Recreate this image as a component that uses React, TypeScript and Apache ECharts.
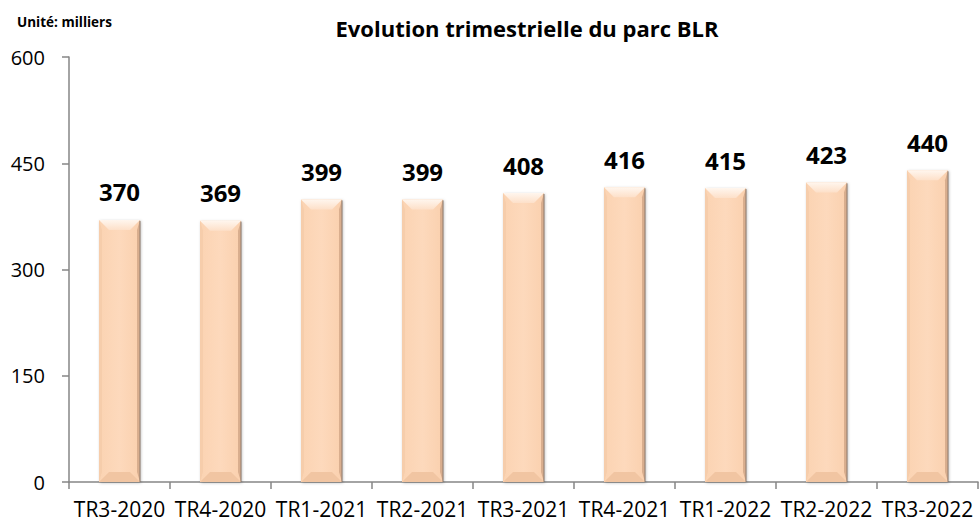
import React, { useEffect, useRef } from "react";
import * as echarts from "echarts";

const categories = ["TR3-2020", "TR4-2020", "TR1-2021", "TR2-2021", "TR3-2021", "TR4-2021", "TR1-2022", "TR2-2022", "TR3-2022"];
const values = [370, 369, 399, 399, 408, 416, 415, 423, 440];
const yTicks = [0, 150, 300, 450, 600];

const BAR_W = 41;

export default function App() {
  const ref = useRef<HTMLDivElement>(null);
  useEffect(() => {
    const chart = echarts.init(ref.current!, null, { renderer: "svg" });
    const font = "'Open Sans', 'Noto Sans', sans-serif";
    const renderBevel = (params: any, api: any) => {
      const c = api.coord([api.value(0), api.value(1)]);
      const b = api.coord([api.value(0), 0]);
      const l = c[0] - BAR_W / 2;
      const r = c[0] + BAR_W / 2;
      const t = c[1];
      const bt = b[1];
      const tb = 10;
      const sb = 3;
      return {
        type: "group",
        children: [
          {
            type: "polygon",
            shape: { points: [[l, t], [r, t], [r - tb, t + tb], [l + tb, t + tb]] },
            style: {
              fill: new echarts.graphic.LinearGradient(0, 0, 0, 1, [
                { offset: 0, color: "#FFF6EE" },
                { offset: 1, color: "#FDE0C9" },
              ]),
            },
          },
          {
            type: "polygon",
            shape: { points: [[l + tb, bt - tb], [r - tb, bt - tb], [r, bt], [l, bt]] },
            style: { fill: "#F1C5A2" },
          },
          {
            type: "polygon",
            shape: { points: [[l, t], [l + sb, t + tb], [l + sb, bt - tb], [l, bt]] },
            style: { fill: "#F6CDAB" },
          },
          {
            type: "polygon",
            shape: { points: [[r, t], [r - sb, t + tb], [r - sb, bt - tb], [r, bt]] },
            style: { fill: "#D9AE8E" },
          },
          {
            type: "line",
            shape: { x1: r, y1: t + 1, x2: r, y2: bt },
            style: { stroke: "#8E7A6C", lineWidth: 1 },
          },
        ],
      };
    };
    chart.setOption({
      animation: false,
      title: [
        {
          text: "Evolution trimestrielle du parc BLR",
          left: 522,
          top: 12,
          textAlign: "center",
          textStyle: { fontFamily: font, fontSize: 22, fontWeight: "bold", color: "#000" },
        },
        {
          text: "Unité: milliers",
          left: 12,
          top: 10,
          textStyle: { fontFamily: font, fontSize: 13.5, fontWeight: "bold", color: "#000" },
        },
      ],
      grid: { left: 69, right: 1, top: 57, bottom: 40, containLabel: false },
      xAxis: {
        type: "category",
        data: categories,
        boundaryGap: true,
        axisLine: { lineStyle: { color: "#868686", width: 1.5 } },
        axisTick: { show: true, length: 7, lineStyle: { color: "#868686", width: 1.5 } },
        axisLabel: { fontFamily: font, fontSize: 21, color: "#000", margin: 16, interval: 0 },
      },
      yAxis: {
        type: "value",
        min: yTicks[0],
        max: yTicks[yTicks.length - 1],
        interval: yTicks[1] - yTicks[0],
        splitLine: { show: false },
        axisLine: { show: true, lineStyle: { color: "#868686", width: 1.5 } },
        axisTick: { show: true, length: 7, lineStyle: { color: "#868686", width: 1.5 } },
        axisLabel: { fontFamily: font, fontSize: 20, color: "#000", margin: 24 },
      },
      series: [
        {
          type: "bar",
          data: values,
          barWidth: BAR_W,
          itemStyle: {
            color: new echarts.graphic.LinearGradient(0, 0, 1, 0, [
              { offset: 0, color: "#FBD3B2" },
              { offset: 0.5, color: "#FDD9BC" },
              { offset: 1, color: "#FAD0AE" },
            ]),
            shadowColor: "rgba(0,0,0,0.25)",
            shadowBlur: 3,
            shadowOffsetX: 1,
            shadowOffsetY: 1,
          },
          label: {
            show: true,
            position: "top",
            distance: 16,
            fontFamily: font,
            fontSize: 24,
            fontWeight: "bold",
            color: "#000",
          },
        },
        {
          type: "custom",
          data: values.map((v, i) => [i, v]),
          renderItem: renderBevel,
          silent: true,
          z: 3,
        },
      ],
    });
    return () => chart.dispose();
  }, []);
  return <div ref={ref} style={{ width: 979, height: 522, position: "absolute", left: 0, top: 0 }} />;
}
